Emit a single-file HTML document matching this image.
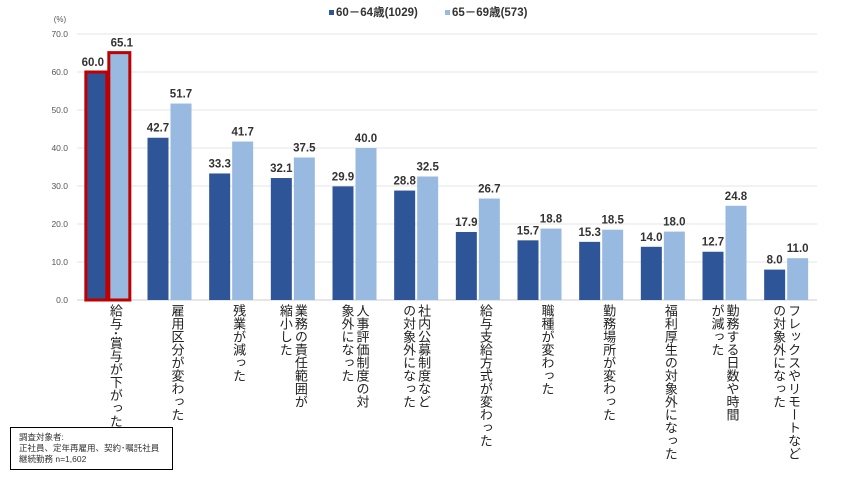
<!DOCTYPE html>
<html><head><meta charset="utf-8"><style>
body{margin:0;background:#fff;font-family:"Liberation Sans","Noto Sans CJK JP",sans-serif;}
#wrap{position:relative;width:865px;height:480px;overflow:hidden;}
.lab{position:absolute;top:304px;writing-mode:vertical-rl;font-size:13px;line-height:15px;color:#222;white-space:pre;}
.val{font-weight:bold;font-size:11.5px;fill:#333;text-anchor:middle;}
</style></head><body>
<div id="wrap">
<svg id="svg" width="865" height="480" style="position:absolute;left:0;top:0">
<text x="60" y="22" font-size="8" fill="#555" text-anchor="middle">(%)</text>
<g>
<rect x="329" y="10" width="5" height="5" fill="#2e5597"/>
<text x="336" y="16" font-size="11.5" font-weight="bold" fill="#333">60－64歳(1029)</text>
<rect x="445" y="10" width="5" height="5" fill="#98b9e0"/>
<text x="452" y="16" font-size="11.5" font-weight="bold" fill="#333">65－69歳(573)</text>
</g>
<g id="grid"></g><g id="bars"></g>
</svg>
<div id="labels"></div>
<div style="position:absolute;left:10px;top:427px;width:163px;height:43px;border:1px solid #000;font-size:8.5px;line-height:11px;color:#333;padding:4px 0 0 8px;box-sizing:border-box;">調査対象者:<br>正社員、定年再雇用、契約･嘱託社員<br>継続勤務 n=1,602</div>
</div>
<script>
const categories=["給与･賞与が下がった","雇用区分が変わった","残業が減った","業務の責任範囲が\n縮小した","人事評価制度の対\n象外になった","社内公募制度など\nの対象外になった","給与支給方式が変わった","職種が変わった","勤務場所が変わった","福利厚生の対象外になった","勤務する日数や時間\nが減った","フレックスやリモートなど\nの対象外になった"];
const series1=[60.0,42.7,33.3,32.1,29.9,28.8,17.9,15.7,15.3,14.0,12.7,8.0];
const series2=[65.1,51.7,41.7,37.5,40.0,32.5,26.7,18.8,18.5,18.0,24.8,11.0];
const ticks=[0,10,20,30,40,50,60,70];
const NS="http://www.w3.org/2000/svg";
const X0=77,X1=817,Y0=300,Y1=34,YMAX=70;
const bw=(X1-X0)/categories.length;
function y(v){return Y0-(v/YMAX)*(Y0-Y1);}
function cx(i){return X0+bw*(i+0.5);}
function mk(t,a,p){const e=document.createElementNS(NS,t);for(const k in a)e.setAttribute(k,a[k]);p.appendChild(e);return e;}
const grid=document.getElementById('grid'),bars=document.getElementById('bars');
ticks.forEach(t=>{
 const l=mk('line',{x1:X0,x2:X1,y1:y(t),y2:y(t),stroke:t===0?'#ccc':'#e4e4e4','stroke-width':1},grid);
 
 
 const tx=mk('text',{x:68,y:y(t)+3,'font-size':8.5,fill:'#555','text-anchor':'end'},grid);
 tx.textContent=t.toFixed(1);
 
 
});
const labels=document.getElementById('labels');
categories.forEach((c,i)=>{
 const c0=cx(i);
 const r1=mk('rect',{x:c0-22,y:y(series1[i]),width:21,height:Y0-y(series1[i]),fill:'#2e5597'},bars);
 
 
 const r2=mk('rect',{x:c0+1,y:y(series2[i]),width:21,height:Y0-y(series2[i]),fill:'#98b9e0'},bars);
 
 
 const big=i===0;
 const t1=mk('text',{x:c0-11.5,y:y(series1[i])-6,class:'val'},bars);
 t1.textContent=series1[i].toFixed(1);
 if(big){t1.setAttribute('font-size','15');t1.setAttribute('x',c0-15);}
 
 
 const t2=mk('text',{x:c0+11.5,y:y(series2[i])-6,class:'val'},bars);
 t2.textContent=series2[i].toFixed(1);
 if(big){t2.setAttribute('font-size','15');t2.setAttribute('x',c0+14);}
 
 
 if(big){
  const h1=mk('rect',{x:c0-22,y:y(series1[i]),width:21,height:Y0-y(series1[i]),fill:'none',stroke:'#c00000','stroke-width':3},bars);
  
  
  const h2=mk('rect',{x:c0+1,y:y(series2[i]),width:21,height:Y0-y(series2[i]),fill:'none',stroke:'#c00000','stroke-width':3},bars);
  
  
 }
 const d=document.createElement('div');
 d.className='lab';
 d.textContent=c;
 
 
 labels.appendChild(d);
 const w=c.includes('\n')?30:15;
 d.style.left=(c0+15-w)+'px';
});
</script>
</body></html>
